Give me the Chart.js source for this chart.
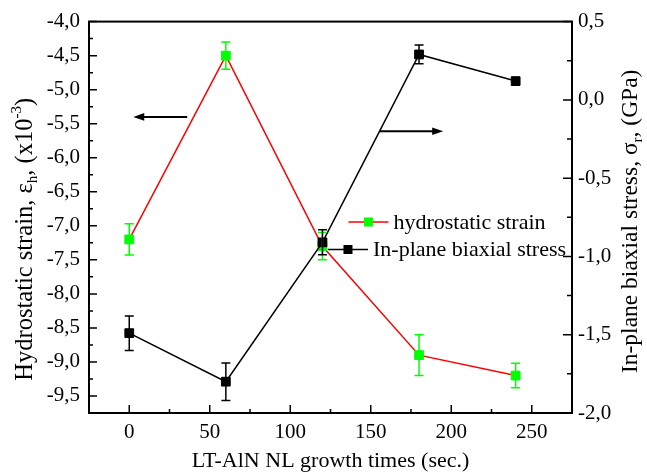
<!DOCTYPE html>
<html lang="en">
<head>
<meta charset="UTF-8">
<title>Hydrostatic strain and in-plane biaxial stress</title>
<script src="https://cdn.jsdelivr.net/npm/chart.js"></script>
<style>
  html, body { margin: 0; padding: 0; background: #fff; }
  #wrap { width: 647px; height: 472px; }
</style>
</head>
<body>
<div id="wrap"><canvas id="chart" width="647" height="472"></canvas></div>
<script>
  // LT-AlN NL growth times (sec.)
  const growthTimes = [0, 60, 120, 180, 240];
  // hydrostatic strain (x10^-3), left axis
  const strainValues = [-7.2, -4.5, -7.3, -8.9, -9.2];
  const strainErrors = [0.23, 0.2, 0.2, 0.3, 0.18];
  // in-plane biaxial stress (GPa), right axis
  const stressValues = [-1.49, -1.8, -0.91, 0.29, 0.12];
  const stressErrors = [0.11, 0.12, 0.08, 0.06, 0];

  const xTicks = [0, 50, 100, 150, 200, 250];
  const strainTicks = [-4.0, -4.5, -5.0, -5.5, -6.0, -6.5, -7.0, -7.5, -8.0, -8.5, -9.0, -9.5];
  const stressTicks = [0.5, 0.0, -0.5, -1.0, -1.5, -2.0];

  const seriesNames = ['hydrostatic strain', 'In-plane biaxial stress'];

  // arrows telling which axis a curve belongs to (data units)
  const arrows = [
    { axis: 'yStrain', from: [36, -5.4], to: [2.5, -5.4] },
    { axis: 'yStress', from: [155.6, -0.2], to: [195, -0.2] }
  ];

  const SERIF = '"Liberation Serif", "Times New Roman", serif';
  const GREEN = '#00ff00';
  const RED = '#ff0000';
  const BLACK = '#000000';

  const comma = v => v.toFixed(1).replace('.', ',');

  function pts(vals) {
    return growthTimes.map((t, i) => ({ x: t, y: vals[i] }));
  }

  function setTicks(list) {
    return scale => { scale.ticks = list.map(v => ({ value: v })); };
  }

  function minorOf(list, min, max) {
    const out = [];
    const step = list[1] - list[0];
    for (let i = -1; i < list.length; i++) {
      const m = (i < 0 ? list[0] : list[i]) + (i < 0 ? -step / 2 : step / 2);
      if (m > Math.min(min, max) && m < Math.max(min, max)) out.push(m);
    }
    return out;
  }

  // text with sub / superscript parts
  function drawRich(ctx, parts, cx, cy, angle, size) {
    ctx.save();
    ctx.translate(cx, cy);
    ctx.rotate(angle);
    ctx.textBaseline = 'middle';
    ctx.textAlign = 'left';
    ctx.fillStyle = BLACK;
    const fontFor = p => (p.sub || p.sup ? Math.round(size * 0.62) : size) + 'px ' + SERIF;
    let total = 0;
    parts.forEach(p => { ctx.font = fontFor(p); total += ctx.measureText(p.t).width; });
    let x = -total / 2;
    parts.forEach(p => {
      ctx.font = fontFor(p);
      const dy = p.sub ? size * 0.3 : p.sup ? -size * 0.38 : 0;
      ctx.fillText(p.t, x, dy);
      x += ctx.measureText(p.t).width;
    });
    ctx.restore();
  }

  const errorBars = {
    id: 'errorBars',
    afterDatasetsDraw(chart) {
      const ctx = chart.ctx;
      chart.data.datasets.forEach((ds, di) => {
        const meta = chart.getDatasetMeta(di);
        const xs = meta.xScale, ys = meta.yScale;
        ctx.save();
        ctx.strokeStyle = ds.errColor;
        ctx.lineWidth = 1.5;
        ds.data.forEach((p, i) => {
          const e = ds.errors[i];
          if (!e) return;
          const px = xs.getPixelForValue(p.x);
          const y1 = ys.getPixelForValue(p.y + e);
          const y2 = ys.getPixelForValue(p.y - e);
          ctx.beginPath();
          ctx.moveTo(px, y1); ctx.lineTo(px, y2);
          ctx.moveTo(px - 4.5, y1); ctx.lineTo(px + 4.5, y1);
          ctx.moveTo(px - 4.5, y2); ctx.lineTo(px + 4.5, y2);
          ctx.stroke();
        });
        ctx.restore();
      });
    }
  };

  const frame = {
    id: 'frame',
    afterDraw(chart) {
      const ctx = chart.ctx;
      const a = chart.chartArea;
      const sx = chart.scales.x, sl = chart.scales.yStrain, sr = chart.scales.yStress;
      ctx.save();
      ctx.strokeStyle = BLACK;
      ctx.lineWidth = 2;
      ctx.strokeRect(a.left, a.top, a.right - a.left, a.bottom - a.top);

      ctx.lineWidth = 1.5;
      ctx.beginPath();
      const tick = (v, scale, len, side) => {
        const p = scale.getPixelForValue(v);
        if (side === 'bottom') { ctx.moveTo(p, a.bottom); ctx.lineTo(p, a.bottom - len); }
        if (side === 'left') { ctx.moveTo(a.left, p); ctx.lineTo(a.left + len, p); }
        if (side === 'right') { ctx.moveTo(a.right, p); ctx.lineTo(a.right - len, p); }
      };
      xTicks.forEach(v => tick(v, sx, 8, 'bottom'));
      minorOf(xTicks, sx.min, sx.max).forEach(v => tick(v, sx, 4, 'bottom'));
      strainTicks.forEach(v => tick(v, sl, 8, 'left'));
      minorOf(strainTicks, sl.min, sl.max).forEach(v => tick(v, sl, 4, 'left'));
      stressTicks.forEach(v => tick(v, sr, 9, 'right'));
      minorOf(stressTicks, sr.min, sr.max).forEach(v => tick(v, sr, 5, 'right'));
      ctx.stroke();

      // arrows
      arrows.forEach(ar => {
        const ys = chart.scales[ar.axis];
        const x1 = sx.getPixelForValue(ar.from[0]), y1 = ys.getPixelForValue(ar.from[1]);
        const x2 = sx.getPixelForValue(ar.to[0]), y2 = ys.getPixelForValue(ar.to[1]);
        const dir = Math.sign(x2 - x1);
        ctx.lineWidth = 2;
        ctx.beginPath();
        ctx.moveTo(x1, y1); ctx.lineTo(x2 - dir * 8, y2);
        ctx.stroke();
        ctx.fillStyle = BLACK;
        ctx.beginPath();
        ctx.moveTo(x2, y2);
        ctx.lineTo(x2 - dir * 11, y2 - 3.8);
        ctx.lineTo(x2 - dir * 11, y2 + 3.8);
        ctx.closePath();
        ctx.fill();
      });

      // legend
      const rows = [222, 249.5];
      const cx = 447;
      ctx.font = '22px ' + SERIF;
      ctx.textBaseline = 'middle';
      ctx.textAlign = 'left';
      chart.data.datasets.forEach((ds, i) => {
        const tw = ctx.measureText(ds.label).width;
        const w = 40 + 5 + tw;
        const x0 = cx - w / 2;
        const y = rows[i];
        ctx.strokeStyle = ds.borderColor;
        ctx.lineWidth = 1.5;
        ctx.beginPath();
        ctx.moveTo(x0, y); ctx.lineTo(x0 + 40, y);
        ctx.stroke();
        ctx.fillStyle = ds.pointBackgroundColor;
        ctx.fillRect(x0 + 20 - 4.5, y - 4.5, 9, 9);
        ctx.fillStyle = BLACK;
        ctx.fillText(ds.label, x0 + 45, y + 1);
      });

      // axis titles
      const midY = (a.top + a.bottom) / 2;
      drawRich(ctx, [
        { t: 'Hydrostatic strain, \u03b5' }, { t: 'h', sub: true },
        { t: ', (x10' }, { t: '-3', sup: true }, { t: ')' }
      ], 26, midY + 22, -Math.PI / 2, 24.5);
      drawRich(ctx, [
        { t: 'In-plane biaxial stress, \u03c3' }, { t: 'r', sub: true },
        { t: ', (GPa)' }
      ], 631, midY + 4, -Math.PI / 2, 23.5);
      drawRich(ctx, [{ t: 'LT-AlN NL growth times (sec.)' }],
        (a.left + a.right) / 2, 461, 0, 22);
      ctx.restore();
    }
  };

  const tickFont = { family: SERIF, size: 21 };

  new Chart(document.getElementById('chart'), {
    type: 'scatter',
    data: {
      datasets: [
        {
          label: seriesNames[0],
          data: pts(strainValues),
          errors: strainErrors,
          errColor: GREEN,
          yAxisID: 'yStrain',
          showLine: true,
          borderColor: RED,
          borderWidth: 1.5,
          pointStyle: 'rect',
          pointRadius: 6.2,
          pointBackgroundColor: GREEN,
          pointBorderColor: GREEN,
          pointBorderWidth: 1,
          order: 1
        },
        {
          label: seriesNames[1],
          data: pts(stressValues),
          errors: stressErrors,
          errColor: BLACK,
          yAxisID: 'yStress',
          showLine: true,
          borderColor: BLACK,
          borderWidth: 1.5,
          pointStyle: 'rect',
          pointRadius: 6.2,
          pointBackgroundColor: BLACK,
          pointBorderColor: BLACK,
          pointBorderWidth: 1,
          order: 0
        }
      ]
    },
    options: {
      responsive: false,
      animation: false,
      events: [],
      layout: { padding: { top: 21, left: 0, right: 0, bottom: 0 } },
      plugins: { legend: { display: false }, tooltip: { enabled: false } },
      scales: {
        x: {
          type: 'linear', position: 'bottom', min: -25, max: 275,
          grid: { display: false, drawTicks: false }, border: { display: false },
          afterBuildTicks: setTicks(xTicks),
          afterFit: s => { s.height = 59; },
          ticks: { font: tickFont, color: BLACK, padding: 7, autoSkip: false, maxRotation: 0,
                   callback: v => String(v) }
        },
        yStrain: {
          type: 'linear', position: 'left', min: -9.75, max: -4.0,
          grid: { display: false, drawTicks: false }, border: { display: false },
          afterBuildTicks: setTicks(strainTicks),
          afterFit: s => { s.width = 89; },
          ticks: { font: tickFont, color: BLACK, padding: 9, autoSkip: false, callback: v => comma(v) }
        },
        yStress: {
          type: 'linear', position: 'right', min: -2.0, max: 0.5,
          grid: { display: false, drawTicks: false }, border: { display: false },
          afterBuildTicks: setTicks(stressTicks),
          afterFit: s => { s.width = 75; },
          ticks: { font: tickFont, color: BLACK, padding: 6, autoSkip: false, callback: v => comma(v) }
        }
      }
    },
    plugins: [errorBars, frame]
  });
</script>
</body>
</html>
